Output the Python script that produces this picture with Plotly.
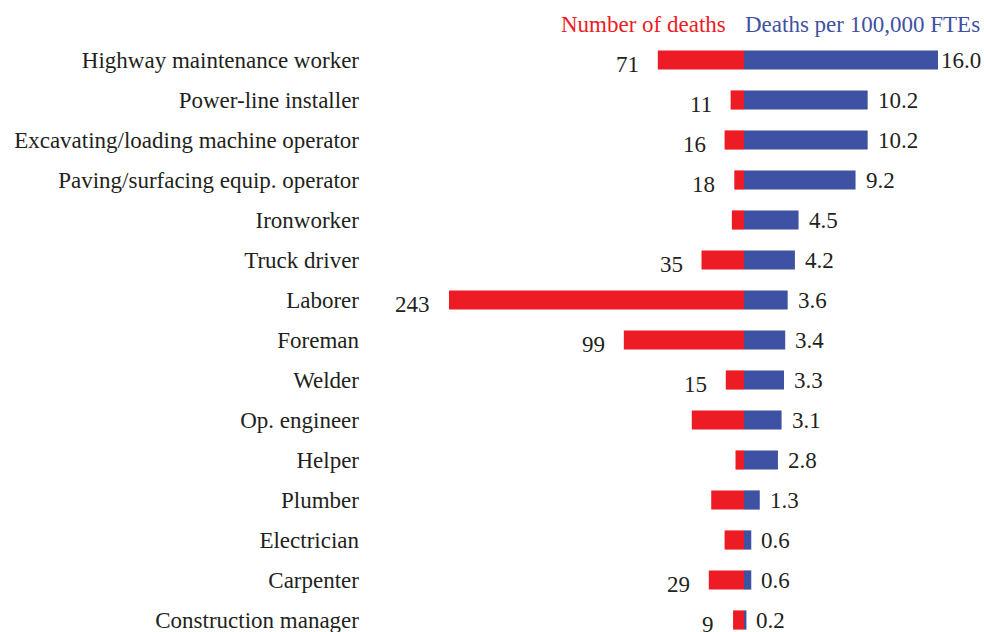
import plotly.graph_objects as go

occupations = [
    "Highway maintenance worker", "Power-line installer",
    "Excavating/loading machine operator", "Paving/surfacing equip. operator",
    "Ironworker", "Truck driver", "Laborer", "Foreman", "Welder",
    "Op. engineer", "Helper", "Plumber", "Electrician", "Carpenter",
    "Construction manager",
]
deaths = [71, 11, 16, 8, 10, 35, 243, 99, 15, 43, 7, 27, 16, 29, 9]
death_labels = ["71", "11", "16", "18", "", "35", "243", "99", "15", "", "", "", "", "29", "9"]
rates = [16.0, 10.2, 10.2, 9.2, 4.5, 4.2, 3.6, 3.4, 3.3, 3.1, 2.8, 1.3, 0.6, 0.6, 0.2]

RED = "#ED1C24"
BLUE = "#3F51A3"
TXT = "#231F20"
FONT = "Liberation Serif"
FS = 23

fig = go.Figure()
fig.add_trace(go.Bar(y=occupations, x=deaths, orientation="h", xaxis="x", yaxis="y",
                     marker=dict(color=RED, line=dict(width=0)), width=0.48,
                     hoverinfo="x+y", showlegend=False))
fig.add_trace(go.Bar(y=occupations, x=rates, orientation="h", xaxis="x2", yaxis="y",
                     marker=dict(color=BLUE, line=dict(width=0)), width=0.48,
                     hoverinfo="x+y", showlegend=False))

annotations = []
for occ, d, lab in zip(occupations, deaths, death_labels):
    if lab:
        annotations.append(dict(x=d, y=occ, xref="x", yref="y", text=lab,
                                showarrow=False, xanchor="right", yanchor="middle",
                                xshift=-17, yshift=-4,
                                font=dict(family=FONT, size=FS, color=TXT)))
for occ, r in zip(occupations, rates):
    annotations.append(dict(x=r, y=occ, xref="x2", yref="y", text=f"{r:.1f}",
                            showarrow=False, xanchor="left", yanchor="middle",
                            xshift=1 if r >= 15 else 8,
                            font=dict(family=FONT, size=FS, color=TXT)))
annotations.append(dict(x=0, y=-0.9, xref="x", yref="y", text="Number of deaths",
                        showarrow=False, xanchor="right", yanchor="middle", xshift=-16,
                        font=dict(family=FONT, size=FS, color=RED)))
annotations.append(dict(x=0, y=-0.9, xref="x2", yref="y", text="Deaths per 100,000 FTEs",
                        showarrow=False, xanchor="left", yanchor="middle", xshift=-1,
                        font=dict(family=FONT, size=FS, color=BLUE)))

split = (744 - 370) / 614
fig.update_layout(
    width=984, height=632,
    margin=dict(l=370, r=0, t=0, b=0),
    paper_bgcolor="white", plot_bgcolor="white",
    barmode="overlay",
    font=dict(family=FONT, size=FS, color=TXT),
    xaxis=dict(domain=[0, split], range=[374 / 1.214, 0], visible=False, fixedrange=True),
    xaxis2=dict(domain=[split, 1], range=[0, 240 / 12.125], visible=False, fixedrange=True),
    yaxis=dict(type="category", categoryorder="array", categoryarray=occupations,
               range=[14.3, -1.5], showgrid=False, zeroline=False, showline=False,
               ticks="", ticklabelstandoff=10,
               tickfont=dict(family=FONT, size=FS, color=TXT)),
    annotations=annotations,
)

fig.write_html("out.html",
               config={"displayModeBar": False},
               post_script="document.body.style.margin='0';document.body.style.overflow='hidden';")
